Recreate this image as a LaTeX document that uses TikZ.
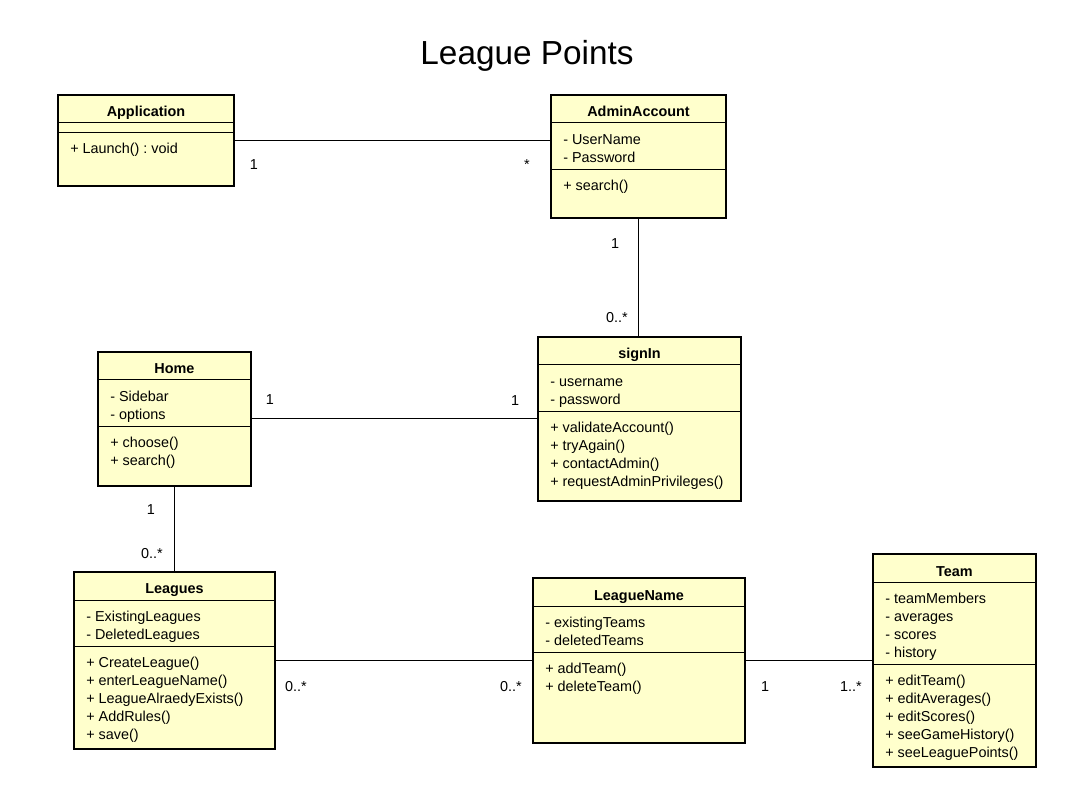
\documentclass[tikz,border=0pt]{standalone}
\usepackage{fontspec}
\setmainfont{Liberation Sans}
\frenchspacing
\definecolor{classfill}{RGB}{255,255,204}
\tikzset{
  classbox/.style={draw=black, line width=1.5pt, fill=classfill, rectangle, inner sep=0pt},
  divider/.style={draw=black, line width=0.75pt},
  assoc/.style={draw=black, line width=0.75pt},
  member/.style={font=\fontsize{10.8}{13}\selectfont, inner sep=0pt, anchor=base west},
  classtitle/.style={font=\fontsize{10.8}{13}\selectfont\bfseries, inner sep=0pt, anchor=base},
  mult/.style={font=\fontsize{10.8}{13}\selectfont, inner sep=0pt, anchor=base},
  diagtitle/.style={font=\fontsize{25}{30}\selectfont, inner sep=0pt, anchor=base},
}
% #1 name, #2 L, #3 T, #4 R, #5 B, #6 title, #7 number of attributes, #8 attributes, #9 operations
\newcommand{\umlclass}[9]{%
  \pgfmathsetmacro\ucx{(#2+#4)/2}%
  \pgfmathsetmacro\ucy{(#3+#5)/2}%
  \pgfmathsetmacro\ucw{(#4-#2)*0.75}%
  \pgfmathsetmacro\uch{(#5-#3)*0.75}%
  \pgfmathsetmacro\uhdr{#3+28}%
  \pgfmathsetmacro\uatt{#3+28+9.9+18.1*#7}%
  \node[classbox, minimum width=\ucw pt, minimum height=\uch pt] (#1) at (\ucx,\ucy) {};
  \node[classtitle] (#1-title) at (\ucx,{#3+22}) {#6};
  \draw[divider] (#1.west |- 0,\uhdr) -- (#1.east |- 0,\uhdr);
  \draw[divider] (#1.west |- 0,\uatt) -- (#1.east |- 0,\uatt);
  \ifnum#7>0
    \foreach \ua [count=\ui] in {#8} {
      \node[member] (#1-a\ui) at ({#2+12},{#3+49.5+18.1*(\ui-1)}) {\ua};
    }
  \fi
  \foreach \uo [count=\ui] in {#9} {
    \node[member] (#1-o\ui) at ({#2+12},{\uatt+21+18.1*(\ui-1)}) {\uo};
  }
}
\begin{document}
\begin{tikzpicture}[x=0.75pt, y=-0.75pt]
\useasboundingbox (0,0) rectangle (1086,798);
\fill[white] (0,0) rectangle (1086,798);

\node[diagtitle] (title) at (527,65) {League Points};

\umlclass{app}{58}{95}{234}{186}{Application}{0}{}{{+ Launch() : void}}
\umlclass{admin}{551}{95}{726}{218}{AdminAccount}{2}{{- UserName},{- Password}}{{+ search()}}
\umlclass{signin}{538}{337}{741}{501}{signIn}{2}{{- username},{- password}}{{+ validateAccount()},{+ tryAgain()},{+ contactAdmin()},{+ requestAdminPrivileges()}}
\umlclass{home}{98}{352}{251}{486}{Home}{2}{{- Sidebar},{- options}}{{+ choose()},{+ search()}}
\umlclass{leagues}{74}{572}{275}{749}{Leagues}{2}{{- ExistingLeagues},{- DeletedLeagues}}{{+ CreateLeague()},{+ enterLeagueName()},{+ LeagueAlraedyExists()},{+ AddRules()},{+ save()}}
\umlclass{lname}{533}{578}{745}{743}{LeagueName}{2}{{- existingTeams},{- deletedTeams}}{{+ addTeam()},{+ deleteTeam()}}
\umlclass{team}{873}{554}{1036}{767}{Team}{4}{{- teamMembers},{- averages},{- scores},{- history}}{{+ editTeam()},{+ editAverages()},{+ editScores()},{+ seeGameHistory()},{+ seeLeaguePoints()}}

% associations
\draw[assoc] (app.east) -- (app.east -| admin.west);
\draw[assoc] (admin.south) -- (admin.south |- signin.north);
\draw[assoc] (home.east) -- (home.east -| signin.west);
\draw[assoc] (home.south) -- (home.south |- leagues.north);
\draw[assoc] (leagues.east) -- (leagues.east -| lname.west);
\draw[assoc] (lname.east) -- (lname.east -| team.west);

% multiplicities
\node[mult] (m1) at (254,170) {1};
\node[mult] (m2) at (527,170) {*};
\node[mult] (m3) at (615,249) {1};
\node[mult] (m4) at (617,323) {0..*};
\node[mult] (m5) at (270,405) {1};
\node[mult] (m6) at (515,406) {1};
\node[mult] (m7) at (151,515) {1};
\node[mult] (m8) at (152,559) {0..*};
\node[mult] (m9) at (296,691) {0..*};
\node[mult] (m10) at (511,691) {0..*};
\node[mult] (m11) at (765,691) {1};
\node[mult] (m12) at (851,691) {1..*};
\end{tikzpicture}
\end{document}
